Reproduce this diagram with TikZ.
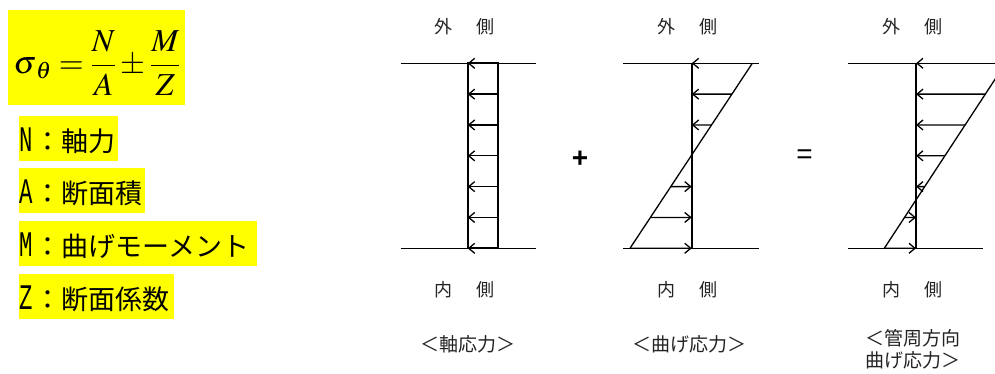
\documentclass[tikz,border=0pt]{standalone}
\usepackage{mathptmx}
\usepackage{graphicx}
\usepackage{fontspec}
\setmainfont{Liberation Serif}
\newfontfamily\jp{Noto Sans CJK JP}
\newfontfamily\monofnt{Liberation Mono}
\newfontfamily\sansfnt{Liberation Sans}
\usetikzlibrary{arrows.meta,calc}
\definecolor{hl}{RGB}{255,255,0}
\definecolor{ink}{RGB}{35,35,35}
\newcommand{\hw}[1]{\scalebox{0.62}[1]{\fontsize{36}{36}\selectfont\monofnt #1}}
\begin{document}
\begin{tikzpicture}[x=1pt,y=-1pt,
  hlbox/.style={fill=hl,draw=none},
  legtext/.style={anchor=west,inner sep=0pt,font=\jp\fontsize{27}{30}\selectfont},
  sidetext/.style={inner sep=0pt,font=\jp\fontsize{18}{20}\selectfont,text=ink},
  captext/.style={inner sep=0pt,font=\jp\fontsize{19}{22}\selectfont,text=ink},
  refline/.style={line width=1pt},
  wall/.style={line width=2.2pt},
  stressarrow/.style={line width=1.3pt,-{Straight Barb[length=6pt,width=10pt,line width=1.3pt]}},
  opsign/.style={inner sep=0pt,font=\sansfnt\fontsize{28}{30}\selectfont}
]
\useasboundingbox (0,0) rectangle (995,374);
\begin{scope}
\clip (0,0) rectangle (995,374);

% ---------- formula and legend ----------
\fill[hlbox] (8,10) rectangle (185,105);
\node[inner sep=0pt] (formula) at (97,63)
  {\fontsize{32}{38}\selectfont$\displaystyle \sigma_{\:\theta} = \frac{N}{A}\pm\frac{M}{Z}$};

\fill[hlbox] (19,116) rectangle (118,161);
\fill[hlbox] (19,168) rectangle (145,213);
\fill[hlbox] (19,221) rectangle (257,266);
\fill[hlbox] (19,274) rectangle (174,319);
\node[legtext] (legN) at (19,141) {\hw{N}\hspace{2pt}：軸力};
\node[legtext] (legA) at (19,193) {\hw{A}\hspace{2pt}：断面積};
\node[legtext] (legM) at (19,246) {\hw{M}\hspace{2pt}：曲げモーメント};
\node[legtext] (legZ) at (19,299) {\hw{Z}\hspace{2pt}：断面係数};

% ---------- panel 1 : axial stress ----------
\coordinate (a1) at (400.7,63.3);
\coordinate (a2) at (535.7,63.3);
\coordinate (a3) at (400.7,248.3);
\coordinate (a4) at (535.7,248.3);
\draw[refline] (a1) -- (a2);
\draw[refline] (a3) -- (a4);
\coordinate (aw1) at (467.7,63.3);
\coordinate (aw2) at (497.7,248.3);
\draw[wall] (aw1) rectangle (aw2);
\foreach \k in {0,...,6}{
  \coordinate (as\k) at (497.7,63.3+\k*30.833);
  \coordinate (ae\k) at (467.7,63.3+\k*30.833);
  \draw[stressarrow] (as\k) -- (ae\k);
}
\node[sidetext] (out1) at (464.5,27) {外\hspace{25pt}側};
\node[sidetext] (in1) at (464.5,290) {内\hspace{25pt}側};
\node[captext] (cap1) at (468,344) {＜軸応力＞};

\node[opsign] (plus) at (580,159) {\bfseries +};

% ---------- panel 2 : bending stress ----------
\coordinate (b1) at (623.3,63.3);
\coordinate (b2) at (759,63.3);
\coordinate (b3) at (623.3,248.3);
\coordinate (b4) at (759,248.3);
\draw[refline] (b1) -- (b2);
\draw[refline] (b3) -- (b4);
\coordinate (bw1) at (691.7,63.3);
\coordinate (bw2) at (691.7,248.3);
\draw[wall] (bw1) -- (bw2);
\coordinate (bd1) at (752.3,63.3);
\coordinate (bd2) at (630,248.3);
\draw[line width=1.3pt] (bd1) -- (bd2);
\foreach \k in {0,1,2,4,5,6}{
  \coordinate (bs\k) at ($(bd1)!\k/6!(bd2)$);
  \coordinate (be\k) at (691.7,63.3+\k*30.833);
  \draw[stressarrow] (bs\k) -- (be\k);
}
\node[sidetext] (out2) at (687.5,27) {外\hspace{25pt}側};
\node[sidetext] (in2) at (687.5,290) {内\hspace{25pt}側};
\node[captext] (cap2) at (689,344) {＜曲げ応力＞};

\node[opsign] (equal) at (804.5,157) {=};

% ---------- panel 3 : combined ----------
\coordinate (c1) at (848.3,63.3);
\coordinate (c2) at (1015,63.3);
\coordinate (c3) at (848.3,248.3);
\coordinate (c4) at (983.3,248.3);
\draw[refline] (c1) -- (c2);
\draw[refline] (c3) -- (c4);
\coordinate (cw1) at (916,63.3);
\coordinate (cw2) at (916,248.3);
\draw[wall] (cw1) -- (cw2);
\coordinate (cd1) at (1005.5,63.3);
\coordinate (cd2) at (884.3,248.3);
\draw[line width=1.3pt] (cd1) -- (cd2);
\foreach \k in {0,...,6}{
  \coordinate (cs\k) at ($(cd1)!\k/6!(cd2)$);
  \coordinate (ce\k) at (916,63.3+\k*30.833);
  \draw[stressarrow] (cs\k) -- (ce\k);
}
\node[sidetext] (out3) at (912.5,27) {外\hspace{25pt}側};
\node[sidetext] (in3) at (912.5,290) {内\hspace{25pt}側};
\node[captext,anchor=west] (cap3a) at (865,338) {＜管周方向};
\node[captext,anchor=west] (cap3b) at (865,360) {曲げ応力＞};
\end{scope}
\end{tikzpicture}
\end{document}
